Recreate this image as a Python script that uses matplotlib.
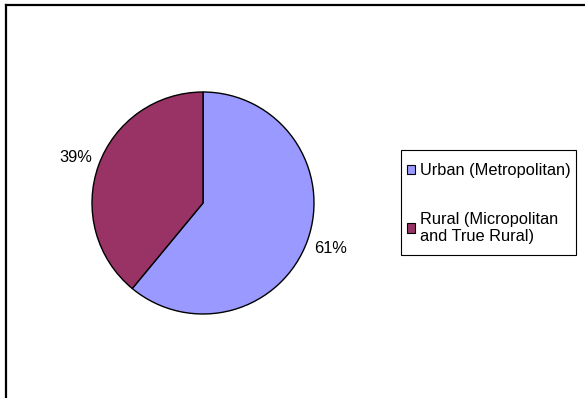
import matplotlib
matplotlib.use("Agg")
import matplotlib.pyplot as plt
from matplotlib.patches import Patch, Rectangle
from matplotlib.lines import Line2D

plt.rcParams['font.family'] = ['Liberation Sans', 'DejaVu Sans']

categories = ["Urban (Metropolitan)", "Rural (Micropolitan\nand True Rural)"]
shares = [61, 39]
colors = ["#9999FF", "#993366"]

W, H = 585, 398
FS = 11.8
fig = plt.figure(figsize=(W / 100, H / 100), dpi=100)
ax = fig.add_axes([0, 0, 1, 1])
ax.set_xlim(0, W)
ax.set_ylim(0, H)
ax.set_aspect('equal')
ax.axis('off')

wedges, texts, autotexts = ax.pie(
    shares, colors=colors, startangle=90, counterclock=False,
    center=(203, H - 203), radius=111,
    autopct=lambda p: f"{p:.0f}%", pctdistance=1.22,
    wedgeprops=dict(edgecolor='black', linewidth=1.0),
    textprops=dict(fontsize=FS, color='black'),
)
ax.set_xlim(0, W)
ax.set_ylim(0, H)

# chart-area border (left and top edges)
fig.add_artist(Line2D([6 / W, 6 / W], [0, 1 - 5 / H], transform=fig.transFigure,
                      color='black', linewidth=1.6))
fig.add_artist(Line2D([6 / W, 1], [1 - 5 / H, 1 - 5 / H], transform=fig.transFigure,
                      color='black', linewidth=1.6))

# legend box
ax.add_patch(Rectangle((401, H - 255), 175, 105, facecolor='white',
                       edgecolor='black', linewidth=0.8, zorder=4))

handles = [Patch(facecolor=c, edgecolor='black', linewidth=0.8) for c in colors]
leg = ax.legend(handles, categories, loc='upper left',
                bbox_to_anchor=(407 / W, 1 - 163 / H), bbox_transform=fig.transFigure,
                fontsize=FS, frameon=False,
                handlelength=0.5, handleheight=0.5,
                handletextpad=0.3, labelspacing=2.05, borderpad=0,
                borderaxespad=0)
leg.set_zorder(5)

fig.savefig("out.png", dpi=100)
